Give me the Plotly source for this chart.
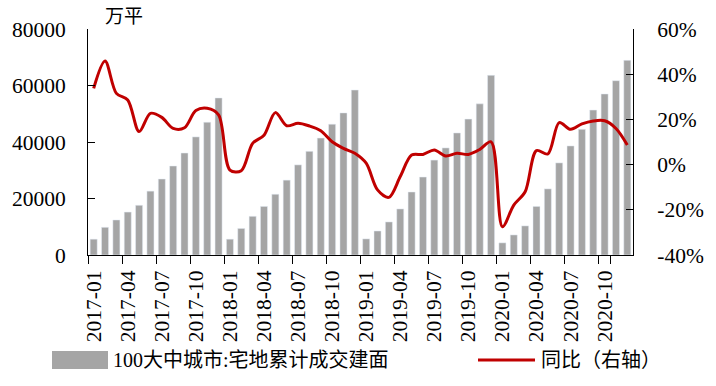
import plotly.graph_objects as go

years = [2017, 2018, 2019, 2020]
months = [f"{y}-{m:02d}" for y in years for m in range(1, 13)]

area_cum = [5600, 9800, 12400, 15200, 17600, 22600, 26900, 31500, 36100, 41800, 47000, 55600,
            5600, 9400, 13700, 17200, 21500, 26500, 31900, 36700, 41400, 46300, 50300, 58400,
            5700, 8500, 11700, 16300, 22300, 27600, 33600, 37900, 43200, 48100, 53500, 63600,
            4300, 7100, 10300, 17200, 23400, 32600, 38600, 44500, 51300, 57000, 61700, 68900]

yoy = [33.7, 45.8, 31.5, 28.6, 14.6, 22.7, 20.9, 16.0, 16.3, 23.9, 24.9, 22.0,
       -2.4, -2.7, 9.4, 13.0, 23.0, 17.2, 18.3, 17.1, 15.0, 10.1, 7.2, 5.0,
       0.6, -11.2, -14.5, -5.3, 4.2, 4.5, 6.5, 3.8, 5.0, 4.5, 6.7, 10.1,
       -27.5, -17.9, -12.0, 6.2, 4.7, 18.6, 15.6, 18.0, 19.3, 19.4, 16.0, 8.7]

left_ticks = [0, 20000, 40000, 60000, 80000]
right_ticks = [-40, -20, 0, 20, 40, 60]
right_ticktext = [f"{v}%" for v in right_ticks]

bar_name = "100大中城市:宅地累计成交建面"
line_name = "同比（右轴）"
unit_label = "万平"

FONT = "Liberation Serif, Noto Sans CJK SC"
BAR_COLOR = "#a5a5a5"
LINE_COLOR = "#c00000"
TICK_SIZE = 21.5

fig = go.Figure()
fig.add_trace(go.Bar(x=months, y=area_cum, name=bar_name, marker_color=BAR_COLOR,
                     showlegend=False))
fig.add_trace(go.Scatter(x=months, y=yoy, name=line_name, yaxis="y2", mode="lines",
                         line=dict(color=LINE_COLOR, width=3, shape="spline", smoothing=0.9),
                         showlegend=False))

fig.update_layout(
    width=716, height=386,
    margin=dict(l=88, r=83, t=29, b=131),
    paper_bgcolor="white", plot_bgcolor="white",
    font=dict(family=FONT, size=20, color="black"),
    bargap=0.38,
    xaxis=dict(type="category", tickmode="array", tickvals=months[::3],
               tickson="boundaries", ticks="outside", ticklen=8, tickcolor="black",
               showline=True, linecolor="black", linewidth=1, tickangle=-90,
               showgrid=False, automargin=False, ticklabelstandoff=6,
               tickfont=dict(family=FONT, size=TICK_SIZE)),
    yaxis=dict(range=[0, 80000], tickmode="array", tickvals=left_ticks,
               ticktext=[str(v) for v in left_ticks],
               ticks="inside", ticklen=7, tickcolor="black", showline=True,
               linecolor="black", linewidth=1, showgrid=False, zeroline=False,
               automargin=False, ticklabelstandoff=17,
               tickfont=dict(family=FONT, size=TICK_SIZE)),
    yaxis2=dict(range=[-40, 60], tickmode="array", tickvals=right_ticks,
                ticktext=right_ticktext,
                overlaying="y", side="right", ticks="inside", ticklen=7,
                tickcolor="black", showline=True, linecolor="black", linewidth=1,
                showgrid=False, zeroline=False, automargin=False,
                ticklabelstandoff=19, tickfont=dict(family=FONT, size=TICK_SIZE)),
)

# unit label
fig.add_annotation(text=unit_label, xref="paper", yref="paper", x=0.028, y=1.0,
                   xanchor="left", yanchor="bottom", showarrow=False,
                   font=dict(family=FONT, size=19))

# manual legend
pw, ph = 716 - 88 - 83, 386 - 29 - 131
def px(xp):
    return (xp - 88) / pw
def py(yp):
    return (255 - yp) / ph

fig.add_shape(type="rect", xref="paper", yref="paper", x0=px(52), x1=px(108),
              y0=py(369), y1=py(351), fillcolor=BAR_COLOR, line=dict(width=0))
fig.add_annotation(text=bar_name, xref="paper", yref="paper", x=px(111), y=py(360),
                   xanchor="left", yanchor="middle", showarrow=False,
                   font=dict(family=FONT, size=20))
fig.add_shape(type="line", xref="paper", yref="paper", x0=px(478), x1=px(535),
              y0=py(360), y1=py(360), line=dict(color=LINE_COLOR, width=3))
fig.add_annotation(text=line_name, xref="paper", yref="paper", x=px(539), y=py(360),
                   xanchor="left", yanchor="middle", showarrow=False,
                   font=dict(family=FONT, size=20))

fig.write_html("out.html", config={"displayModeBar": False},
               post_script="document.body.style.margin='0';document.body.style.overflow='hidden';")
